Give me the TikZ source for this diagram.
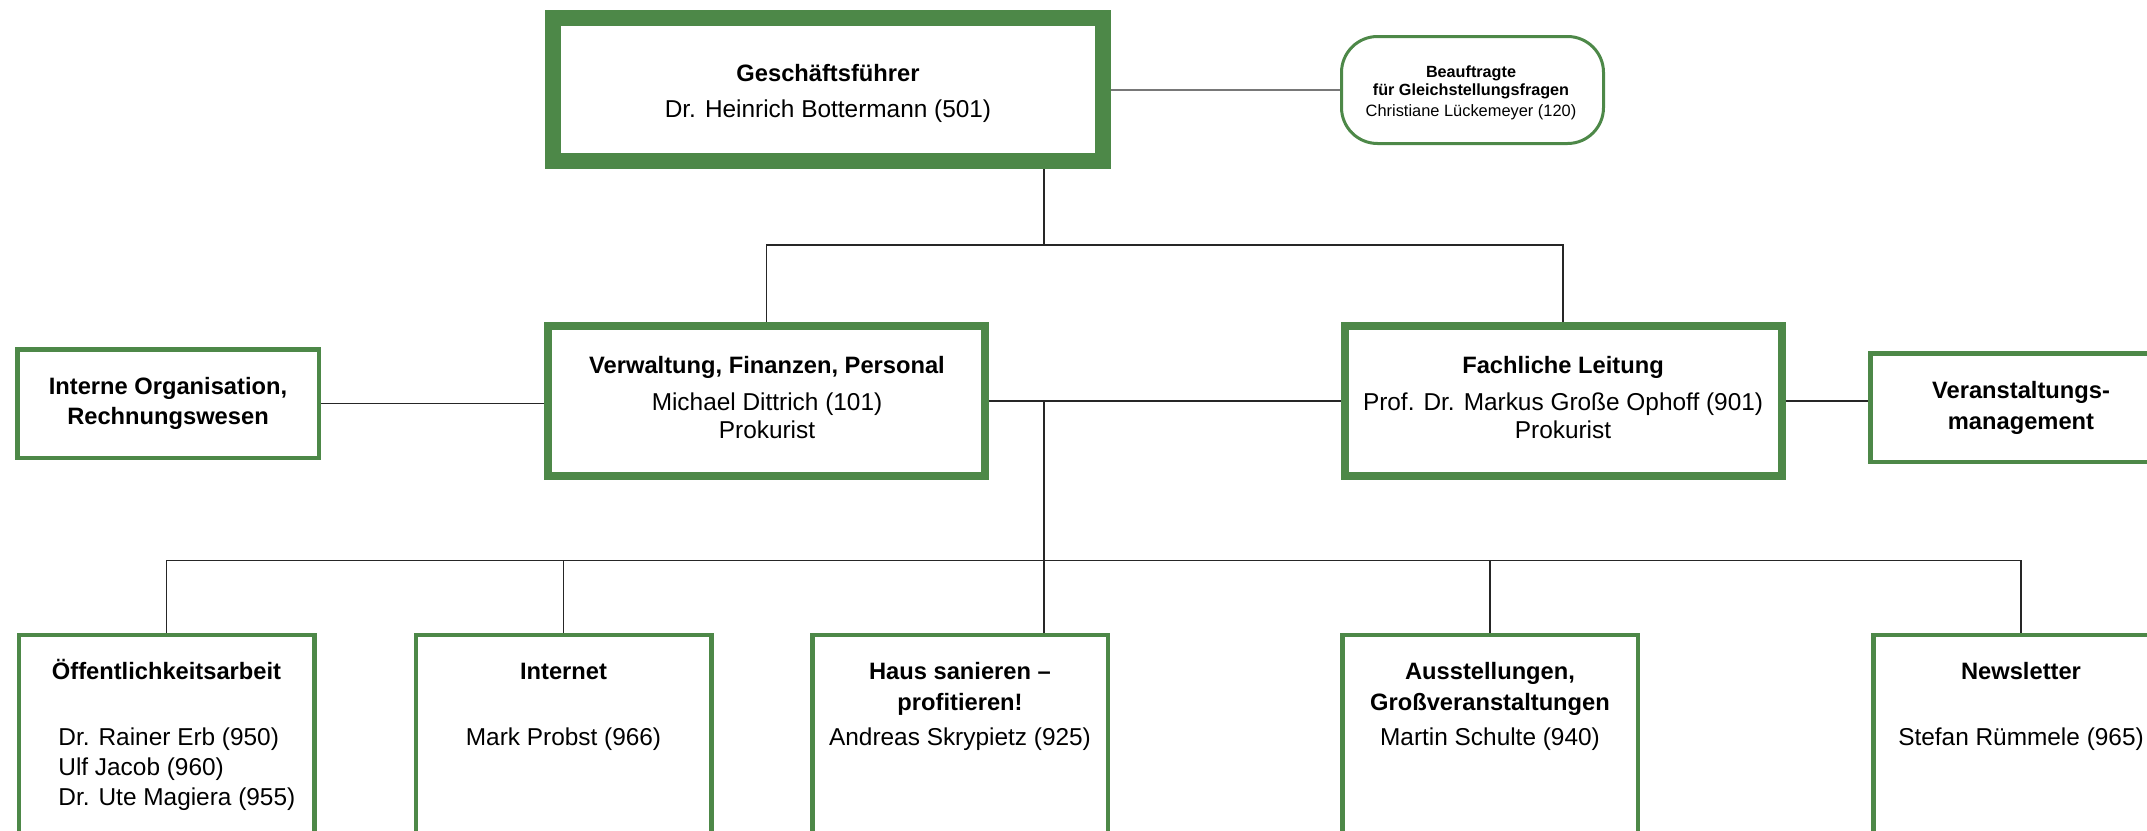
\documentclass[tikz,border=0pt]{standalone}
\usepackage{fontspec}
\setmainfont{Liberation Sans}
\definecolor{dgreen}{RGB}{77,136,72}
\definecolor{lgray}{RGB}{120,120,120}
\begin{document}
\begin{tikzpicture}[x=0.5pt,y=-0.5pt,
  box/.style={draw=dgreen, fill=white, rectangle, inner sep=0pt},
  bigbox/.style={box, line width=8pt, minimum width=275pt, minimum height=71.5pt},
  midbox/.style={box, line width=4pt, minimum width=218.5pt, minimum height=75pt},
  sidebox/.style={box, line width=2.25pt, minimum width=150.75pt, minimum height=54.25pt},
  unitbox/.style={box, line width=2.25pt, minimum width=147.75pt, minimum height=182.4pt},
  roundbox/.style={box, line width=1.5pt, rounded corners=18pt, minimum width=131pt, minimum height=53.5pt},
  conn/.style={draw=black!85, line width=0.65pt},
  gconn/.style={draw=lgray, line width=1pt},
  ttl/.style={font=\bfseries\fontsize{11.85}{14}\selectfont, inner sep=0pt, text height=8.5pt, text depth=0pt},
  nm/.style={font=\fontsize{12.2}{14}\selectfont, inner sep=0pt, text height=8.7pt, text depth=0pt},
  sttl/.style={font=\bfseries\fontsize{8.1}{10}\selectfont, inner sep=0pt, text height=5.8pt, text depth=0pt},
  snm/.style={font=\fontsize{8.2}{10}\selectfont, inner sep=0pt, text height=5.9pt, text depth=0pt}
]
\useasboundingbox (0,0) rectangle (2147,830);
\clip (0,0) rectangle (2147,830);
\fill[white] (0,0) rectangle (2147,830);

% boxes
\node[bigbox] (gf) at (828,89.5) {};
\node[roundbox] (bf) at (1472.5,90) {};
\node[midbox] (vw) at (766.5,401) {};
\node[midbox] (fl) at (1563,401) {};
\node[sidebox] (io) at (168,403.5) {};
\node[sidebox] (va) at (2021,407.5) {};
\node[unitbox] (oe) at (166.5,817.6) {};
\node[unitbox] (in) at (563.5,817.6) {};
\node[unitbox] (hs) at (960,817.6) {};
\node[unitbox] (au) at (1490,817.6) {};
\node[unitbox] (nl) at (2021,817.6) {};

% texts
\node[ttl] (gft) at (828,73) {Geschäftsführer};
\node[nm] (gfn) at (828,109) {Dr. Heinrich Bottermann (501)};
\node[sttl] (bft1) at (1471,72) {Beauftragte};
\node[sttl] (bft2) at (1471,90) {für Gleichstellungsfragen};
\node[snm] (bfn) at (1471,111) {Christiane Lückemeyer (120)};
\node[ttl] (vwt) at (767,365) {Verwaltung, Finanzen, Personal};
\node[nm] (vwn) at (767,402) {Michael Dittrich (101)};
\node[nm] (vwp) at (767,429.5) {Prokurist};
\node[ttl] (flt) at (1563,365) {Fachliche Leitung};
\node[nm] (fln) at (1563,402) {Prof. Dr. Markus Große Ophoff (901)};
\node[nm] (flp) at (1563,429.5) {Prokurist};
\node[ttl] (iot1) at (168,386) {Interne Organisation,};
\node[ttl] (iot2) at (168,416) {Rechnungswesen};
\node[ttl] (vat1) at (2021,390) {Veranstaltungs-};
\node[ttl] (vat2) at (2021,421) {management};
\node[ttl] (oet) at (166.5,671) {Öffentlichkeitsarbeit};
\node[nm, anchor=west] (oen1) at (58,737) {Dr. Rainer Erb (950)};
\node[nm, anchor=west] (oen2) at (58,767) {Ulf Jacob (960)};
\node[nm, anchor=west] (oen3) at (58,797) {Dr. Ute Magiera (955)};
\node[ttl] (int) at (563.5,670.5) {Internet};
\node[nm] (inn) at (563.5,737) {Mark Probst (966)};
\node[ttl] (hst1) at (960,670.5) {Haus sanieren –};
\node[ttl] (hst2) at (960,702) {profitieren!};
\node[nm] (hsn) at (960,737) {Andreas Skrypietz (925)};
\node[ttl] (aut1) at (1490,670.5) {Ausstellungen,};
\node[ttl] (aut2) at (1490,702) {Großveranstaltungen};
\node[nm] (aun) at (1490,737) {Martin Schulte (940)};
\node[ttl] (nlt) at (2021,670.5) {Newsletter};
\node[nm] (nln) at (2021,737) {Stefan Rümmele (965)};

% junctions
\coordinate (j1) at (1044,245);
\coordinate (j2) at (1044,401);
\coordinate (j3) at (1044,560.5);

% connectors
\draw[gconn] (gf.east) -- (gf.east -| bf.west);
\draw[conn] (gf.south -| j1) -- (j1);
\draw[conn] (vw.north) |- (j1) -| (fl.north);
\draw[conn] (io.east) -- (io.east -| vw.west);
\draw[conn] (vw.east) -- (fl.west);
\draw[conn] (fl.east) -- (fl.east -| va.west);
\draw[conn] (j2) -- (j2 |- hs.north);
\draw[conn] (oe.north) |- (j3) -| (nl.north);
\draw[conn] (in.north) -- (in.north |- j3);
\draw[conn] (au.north) -- (au.north |- j3);
\end{tikzpicture}
\end{document}
